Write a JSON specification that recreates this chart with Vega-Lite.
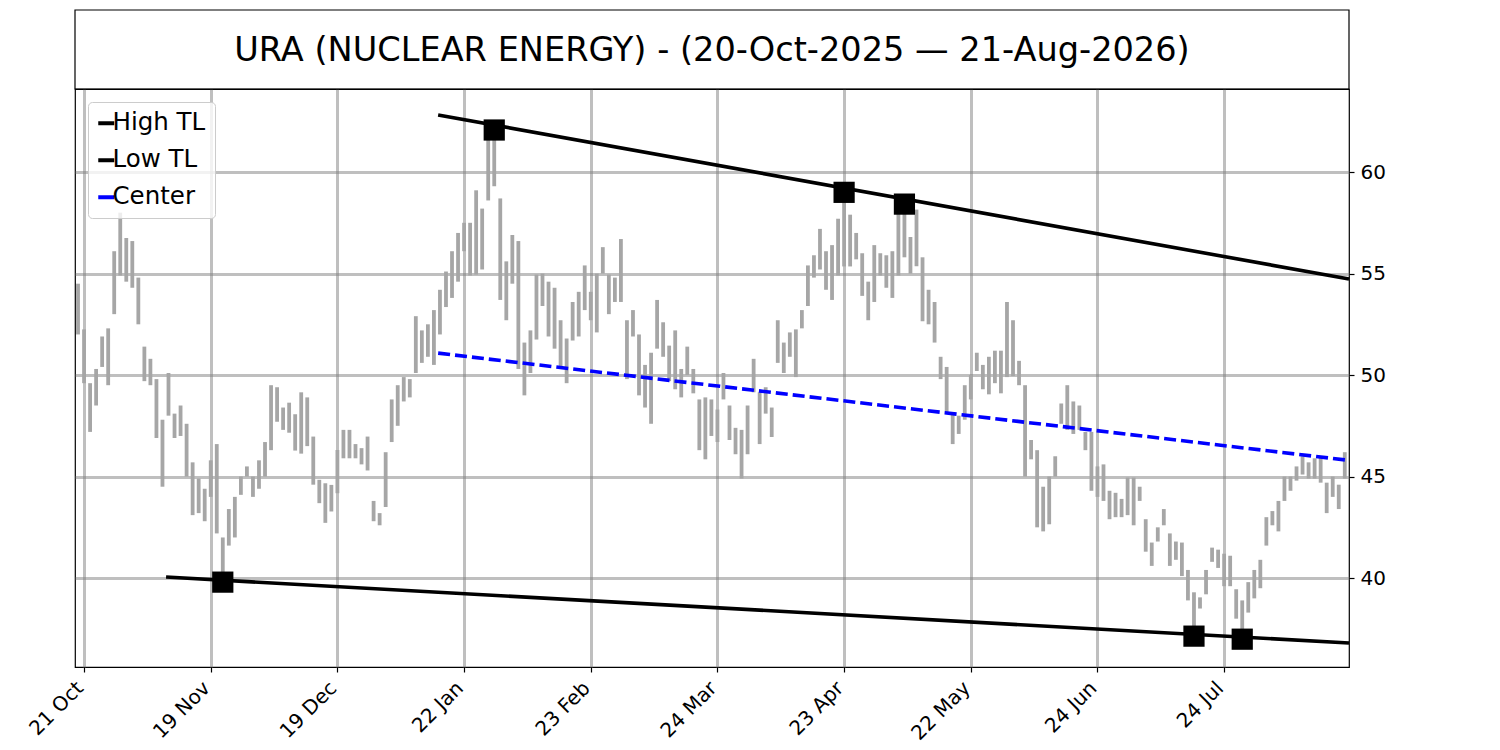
{
  "$schema": "https://vega.github.io/schema/vega-lite/v6.json",
  "autosize": {"type": "none"},
  "padding": {"left": 75, "top": 89, "right": 151, "bottom": 83},
  "width": 1274,
  "height": 578,
  "config": {
    "font": "DejaVu Sans",
    "view": {"stroke": "black", "strokeWidth": 1.2},
    "axis": {
      "title": null,
      "domain": false,
      "grid": true,
      "gridColor": "#808080",
      "gridOpacity": 0.5,
      "gridWidth": 3,
      "tickColor": "black",
      "tickSize": 5,
      "tickWidth": 1.2,
      "labelColor": "black",
      "labelFont": "DejaVu Sans",
      "labelFontSize": 20,
      "labelFlush": false,
      "labelOverlap": false,
      "labelBound": false
    },
    "legend": {
      "orient": "top-left",
      "offset": 13,
      "labelFont": "DejaVu Sans",
      "labelFontSize": 24.5,
      "labelColor": "black",
      "labelOffset": -6,
      "symbolOffset": -3,
      "symbolType": "stroke",
      "symbolSize": 256,
      "symbolStrokeWidth": 4,
      "fillColor": "rgba(255,255,255,0.8)",
      "strokeColor": "#cccccc",
      "cornerRadius": 4,
      "padding": 9,
      "rowPadding": 12
    }
  },
  "layer": [
    {
      "data": {"values": [
        {"day": -1, "low": 52.0, "high": 54.5}, {"day": 0, "low": 49.6, "high": 52.25}, {"day": 1, "low": 47.2, "high": 49.6},
        {"day": 2, "low": 48.5, "high": 50.3}, {"day": 3, "low": 50.4, "high": 51.9}, {"day": 4, "low": 49.5, "high": 52.3},
        {"day": 5, "low": 53.0, "high": 56.1}, {"day": 6, "low": 54.9, "high": 58.0}, {"day": 7, "low": 54.6, "high": 56.75},
        {"day": 8, "low": 54.3, "high": 56.6}, {"day": 9, "low": 52.5, "high": 54.8}, {"day": 10, "low": 49.7, "high": 51.4},
        {"day": 11, "low": 49.5, "high": 50.8}, {"day": 12, "low": 46.9, "high": 49.8}, {"day": 13, "low": 44.5, "high": 47.8},
        {"day": 14, "low": 48.0, "high": 50.1}, {"day": 15, "low": 46.9, "high": 48.1}, {"day": 16, "low": 47.0, "high": 48.5},
        {"day": 17, "low": 45.0, "high": 47.6}, {"day": 18, "low": 43.1, "high": 45.7}, {"day": 19, "low": 43.2, "high": 44.9},
        {"day": 20, "low": 42.8, "high": 44.4}, {"day": 21, "low": 44.0, "high": 45.8}, {"day": 22, "low": 42.2, "high": 46.6},
        {"day": 23, "low": 39.8, "high": 42.0}, {"day": 24, "low": 41.6, "high": 43.4}, {"day": 25, "low": 42.0, "high": 44.0},
        {"day": 26, "low": 44.1, "high": 45.0}, {"day": 27, "low": 45.0, "high": 45.5}, {"day": 28, "low": 44.0, "high": 45.0},
        {"day": 29, "low": 44.4, "high": 45.8}, {"day": 30, "low": 45.0, "high": 46.7}, {"day": 31, "low": 46.3, "high": 49.5},
        {"day": 32, "low": 47.7, "high": 49.4}, {"day": 33, "low": 47.3, "high": 48.4}, {"day": 34, "low": 47.16, "high": 48.64},
        {"day": 35, "low": 46.28, "high": 48.07}, {"day": 36, "low": 46.13, "high": 49.15}, {"day": 37, "low": 46.5, "high": 48.9},
        {"day": 38, "low": 44.6, "high": 46.97}, {"day": 39, "low": 43.69, "high": 44.84}, {"day": 40, "low": 42.72, "high": 44.67},
        {"day": 41, "low": 43.28, "high": 44.59}, {"day": 42, "low": 44.18, "high": 46.31}, {"day": 43, "low": 45.9, "high": 47.3},
        {"day": 44, "low": 45.9, "high": 47.3}, {"day": 45, "low": 45.9, "high": 46.6}, {"day": 46, "low": 45.6, "high": 46.4},
        {"day": 47, "low": 45.3, "high": 46.97}, {"day": 48, "low": 42.8, "high": 43.8}, {"day": 49, "low": 42.6, "high": 43.2},
        {"day": 50, "low": 43.5, "high": 46.2}, {"day": 51, "low": 46.7, "high": 48.8}, {"day": 52, "low": 47.5, "high": 49.5},
        {"day": 53, "low": 48.7, "high": 49.9}, {"day": 54, "low": 48.9, "high": 49.8}, {"day": 55, "low": 50.1, "high": 52.9},
        {"day": 56, "low": 50.6, "high": 52.2}, {"day": 57, "low": 50.9, "high": 52.5}, {"day": 58, "low": 50.5, "high": 53.2},
        {"day": 59, "low": 52.0, "high": 54.2}, {"day": 60, "low": 53.35, "high": 55.1}, {"day": 61, "low": 53.8, "high": 56.1},
        {"day": 62, "low": 54.6, "high": 57.0}, {"day": 63, "low": 56.1, "high": 57.5}, {"day": 64, "low": 54.9, "high": 57.5},
        {"day": 65, "low": 54.95, "high": 59.1}, {"day": 66, "low": 55.2, "high": 58.2}, {"day": 67, "low": 58.6, "high": 61.6},
        {"day": 68, "low": 59.3, "high": 62.07}, {"day": 69, "low": 53.7, "high": 58.7}, {"day": 70, "low": 52.7, "high": 55.6},
        {"day": 71, "low": 54.5, "high": 56.9}, {"day": 72, "low": 50.3, "high": 56.6}, {"day": 73, "low": 49.0, "high": 51.6},
        {"day": 74, "low": 50.1, "high": 52.2}, {"day": 75, "low": 51.75, "high": 54.95}, {"day": 76, "low": 53.4, "high": 55.0},
        {"day": 77, "low": 51.9, "high": 54.6}, {"day": 78, "low": 51.3, "high": 54.3}, {"day": 79, "low": 50.4, "high": 52.7},
        {"day": 80, "low": 49.6, "high": 51.8}, {"day": 81, "low": 51.7, "high": 53.6}, {"day": 82, "low": 51.9, "high": 54.1},
        {"day": 83, "low": 53.2, "high": 55.4}, {"day": 84, "low": 52.7, "high": 54.1}, {"day": 85, "low": 52.1, "high": 55.0},
        {"day": 86, "low": 55.0, "high": 56.3}, {"day": 87, "low": 53.0, "high": 54.95}, {"day": 88, "low": 53.6, "high": 54.8},
        {"day": 89, "low": 53.6, "high": 56.7}, {"day": 90, "low": 49.8, "high": 52.7}, {"day": 91, "low": 51.9, "high": 53.2},
        {"day": 92, "low": 49.0, "high": 52.0}, {"day": 93, "low": 48.4, "high": 50.5}, {"day": 94, "low": 47.6, "high": 51.1},
        {"day": 95, "low": 51.3, "high": 53.7}, {"day": 96, "low": 50.9, "high": 52.6}, {"day": 97, "low": 49.7, "high": 51.45},
        {"day": 98, "low": 49.3, "high": 52.2}, {"day": 99, "low": 48.9, "high": 50.3}, {"day": 100, "low": 50.0, "high": 51.4},
        {"day": 101, "low": 49.1, "high": 50.3}, {"day": 102, "low": 46.3, "high": 48.8}, {"day": 103, "low": 45.85, "high": 48.9},
        {"day": 104, "low": 47.0, "high": 48.8}, {"day": 105, "low": 46.7, "high": 48.3}, {"day": 106, "low": 48.8, "high": 50.1},
        {"day": 107, "low": 46.8, "high": 48.5}, {"day": 108, "low": 46.1, "high": 47.4}, {"day": 109, "low": 44.9, "high": 47.3},
        {"day": 110, "low": 46.1, "high": 48.5}, {"day": 111, "low": 49.15, "high": 50.8}, {"day": 112, "low": 46.6, "high": 49.15},
        {"day": 113, "low": 48.1, "high": 49.4}, {"day": 114, "low": 46.95, "high": 48.4}, {"day": 115, "low": 50.6, "high": 52.7},
        {"day": 116, "low": 50.1, "high": 51.6}, {"day": 117, "low": 50.9, "high": 52.1}, {"day": 118, "low": 49.9, "high": 52.25},
        {"day": 119, "low": 52.3, "high": 53.2}, {"day": 120, "low": 53.4, "high": 55.4}, {"day": 121, "low": 54.8, "high": 55.9},
        {"day": 122, "low": 55.2, "high": 57.2}, {"day": 123, "low": 54.2, "high": 56.1}, {"day": 124, "low": 53.7, "high": 56.4},
        {"day": 125, "low": 54.9, "high": 57.7}, {"day": 126, "low": 55.35, "high": 59.0}, {"day": 127, "low": 55.35, "high": 57.9},
        {"day": 128, "low": 55.7, "high": 57.0}, {"day": 129, "low": 53.9, "high": 56.0}, {"day": 130, "low": 52.7, "high": 54.6},
        {"day": 131, "low": 53.6, "high": 56.4}, {"day": 132, "low": 54.9, "high": 56.0}, {"day": 133, "low": 54.3, "high": 55.9},
        {"day": 134, "low": 53.8, "high": 56.1}, {"day": 135, "low": 54.9, "high": 58.0}, {"day": 136, "low": 55.8, "high": 58.42},
        {"day": 137, "low": 55.0, "high": 56.8}, {"day": 138, "low": 55.36, "high": 58.15}, {"day": 139, "low": 52.65, "high": 55.8},
        {"day": 140, "low": 52.5, "high": 54.2}, {"day": 141, "low": 51.6, "high": 53.6}, {"day": 142, "low": 49.8, "high": 50.9},
        {"day": 143, "low": 48.1, "high": 50.4}, {"day": 144, "low": 46.6, "high": 48.1}, {"day": 145, "low": 47.1, "high": 48.0},
        {"day": 146, "low": 47.8, "high": 49.5}, {"day": 147, "low": 48.8, "high": 50.0}, {"day": 148, "low": 50.2, "high": 51.1},
        {"day": 149, "low": 49.3, "high": 50.5}, {"day": 150, "low": 49.05, "high": 50.9}, {"day": 151, "low": 49.6, "high": 51.2},
        {"day": 152, "low": 49.1, "high": 51.2}, {"day": 153, "low": 49.9, "high": 53.6}, {"day": 154, "low": 49.95, "high": 52.7},
        {"day": 155, "low": 49.5, "high": 50.7}, {"day": 156, "low": 45.0, "high": 49.5}, {"day": 157, "low": 45.85, "high": 46.8},
        {"day": 158, "low": 42.5, "high": 46.3}, {"day": 159, "low": 42.3, "high": 44.5}, {"day": 160, "low": 42.65, "high": 45.0},
        {"day": 161, "low": 45.0, "high": 46.0}, {"day": 162, "low": 47.6, "high": 48.6}, {"day": 163, "low": 47.3, "high": 49.5},
        {"day": 164, "low": 47.1, "high": 48.7}, {"day": 165, "low": 47.3, "high": 48.5}, {"day": 166, "low": 46.3, "high": 47.2},
        {"day": 167, "low": 44.3, "high": 47.2}, {"day": 168, "low": 44.0, "high": 45.5}, {"day": 169, "low": 43.8, "high": 45.6},
        {"day": 170, "low": 42.9, "high": 44.3}, {"day": 171, "low": 43.0, "high": 44.2}, {"day": 172, "low": 43.0, "high": 43.9},
        {"day": 173, "low": 43.1, "high": 44.95}, {"day": 174, "low": 42.6, "high": 44.95}, {"day": 175, "low": 43.8, "high": 44.5},
        {"day": 176, "low": 41.3, "high": 42.9}, {"day": 177, "low": 40.6, "high": 41.75}, {"day": 178, "low": 41.8, "high": 42.5},
        {"day": 179, "low": 42.6, "high": 43.4}, {"day": 180, "low": 40.6, "high": 42.2}, {"day": 181, "low": 40.9, "high": 41.8},
        {"day": 182, "low": 40.1, "high": 41.75}, {"day": 183, "low": 38.9, "high": 40.4}, {"day": 184, "low": 37.14, "high": 39.3},
        {"day": 185, "low": 38.5, "high": 39.05}, {"day": 186, "low": 39.2, "high": 40.4}, {"day": 187, "low": 40.8, "high": 41.5},
        {"day": 188, "low": 40.5, "high": 41.4}, {"day": 189, "low": 39.6, "high": 41.2}, {"day": 190, "low": 39.6, "high": 41.1},
        {"day": 191, "low": 38.0, "high": 39.45}, {"day": 192, "low": 36.99, "high": 38.9}, {"day": 193, "low": 38.3, "high": 39.8},
        {"day": 194, "low": 39.0, "high": 40.4}, {"day": 195, "low": 39.5, "high": 40.9}, {"day": 196, "low": 41.6, "high": 43.0},
        {"day": 197, "low": 42.6, "high": 43.3}, {"day": 198, "low": 42.3, "high": 43.8}, {"day": 199, "low": 43.8, "high": 45.0},
        {"day": 200, "low": 44.3, "high": 45.0}, {"day": 201, "low": 44.8, "high": 45.5}, {"day": 202, "low": 45.1, "high": 46.0},
        {"day": 203, "low": 44.9, "high": 45.7}, {"day": 204, "low": 44.9, "high": 45.9}, {"day": 205, "low": 44.7, "high": 46.0},
        {"day": 206, "low": 43.2, "high": 44.7}, {"day": 207, "low": 44.0, "high": 45.0}, {"day": 208, "low": 43.4, "high": 44.6},
        {"day": 209, "low": 44.9, "high": 46.2}
      ]},
      "mark": {"type": "rule", "color": "#a6a6a6", "strokeWidth": 3.8},
      "encoding": {
        "x": {
          "field": "day",
          "type": "quantitative",
          "scale": {"domain": [-1.5, 209.7], "nice": false, "zero": false},
          "axis": {
            "values": [0, 21, 42, 63, 84, 105, 126, 147, 168, 189],
            "labelExpr": "['21 Oct','19 Nov','19 Dec','22 Jan','23 Feb','24 Mar','23 Apr','22 May','24 Jun','24 Jul'][round(datum.value / 21)]",
            "labelAngle": -45,
            "labelAlign": "right",
            "labelBaseline": "alphabetic",
            "labelPadding": 17
          }
        },
        "y": {
          "field": "low",
          "type": "quantitative",
          "scale": {"domain": [35.62, 64.09], "nice": false, "zero": false},
          "axis": {"orient": "right", "values": [40, 45, 50, 55, 60], "labelPadding": 6}
        },
        "y2": {"field": "high"}
      }
    },
    {
      "data": {"values": [
        {"series": "High TL", "day": 58.7, "value": 62.81},
        {"series": "High TL", "day": 209.7, "value": 54.73},
        {"series": "Low TL", "day": 13.6, "value": 40.05},
        {"series": "Low TL", "day": 209.7, "value": 36.8},
        {"series": "Center", "day": 58.7, "value": 51.08},
        {"series": "Center", "day": 209.7, "value": 45.8}
      ]},
      "layer": [
        {
          "transform": [{"filter": "datum.series !== 'Center'"}],
          "mark": {"type": "line", "strokeWidth": 3.6},
          "encoding": {
            "x": {"field": "day", "type": "quantitative"},
            "y": {"field": "value", "type": "quantitative"},
            "color": {
              "field": "series",
              "type": "nominal",
              "sort": ["High TL", "Low TL", "Center"],
              "scale": {"domain": ["High TL", "Low TL", "Center"], "range": ["black", "black", "blue"]},
              "legend": {"title": null}
            }
          }
        },
        {
          "transform": [{"filter": "datum.series === 'Center'"}],
          "mark": {"type": "line", "strokeWidth": 3.6, "strokeDash": [12, 5]},
          "encoding": {
            "x": {"field": "day", "type": "quantitative"},
            "y": {"field": "value", "type": "quantitative"},
            "color": {"field": "series", "type": "nominal"}
          }
        }
      ]
    },
    {
      "data": {"values": [
        {"day": 23, "value": 39.8},
        {"day": 68, "value": 62.07},
        {"day": 126, "value": 59.0},
        {"day": 136, "value": 58.42},
        {"day": 184, "value": 37.14},
        {"day": 192, "value": 36.99}
      ]},
      "mark": {"type": "square", "filled": true, "color": "black", "opacity": 1, "size": 450},
      "encoding": {
        "x": {"field": "day", "type": "quantitative"},
        "y": {"field": "value", "type": "quantitative"}
      }
    },
    {
      "data": {"values": [{"title": "URA (NUCLEAR ENERGY) - (20-Oct-2025 — 21-Aug-2026)"}]},
      "layer": [
        {
          "mark": {"type": "rect", "fill": null, "fillOpacity": 0, "stroke": "black", "strokeWidth": 1.2},
          "encoding": {
            "x": {"datum": -1.5, "type": "quantitative"},
            "x2": {"datum": 209.7},
            "y": {"datum": 64.09, "type": "quantitative"},
            "y2": {"datum": 67.98}
          }
        },
        {
          "mark": {"type": "text", "fontSize": 33.6, "font": "DejaVu Sans", "baseline": "middle", "align": "center", "color": "black"},
          "encoding": {
            "x": {"datum": 104.1, "type": "quantitative"},
            "y": {"datum": 65.94, "type": "quantitative"},
            "text": {"field": "title", "type": "nominal"}
          }
        }
      ]
    }
  ]
}
